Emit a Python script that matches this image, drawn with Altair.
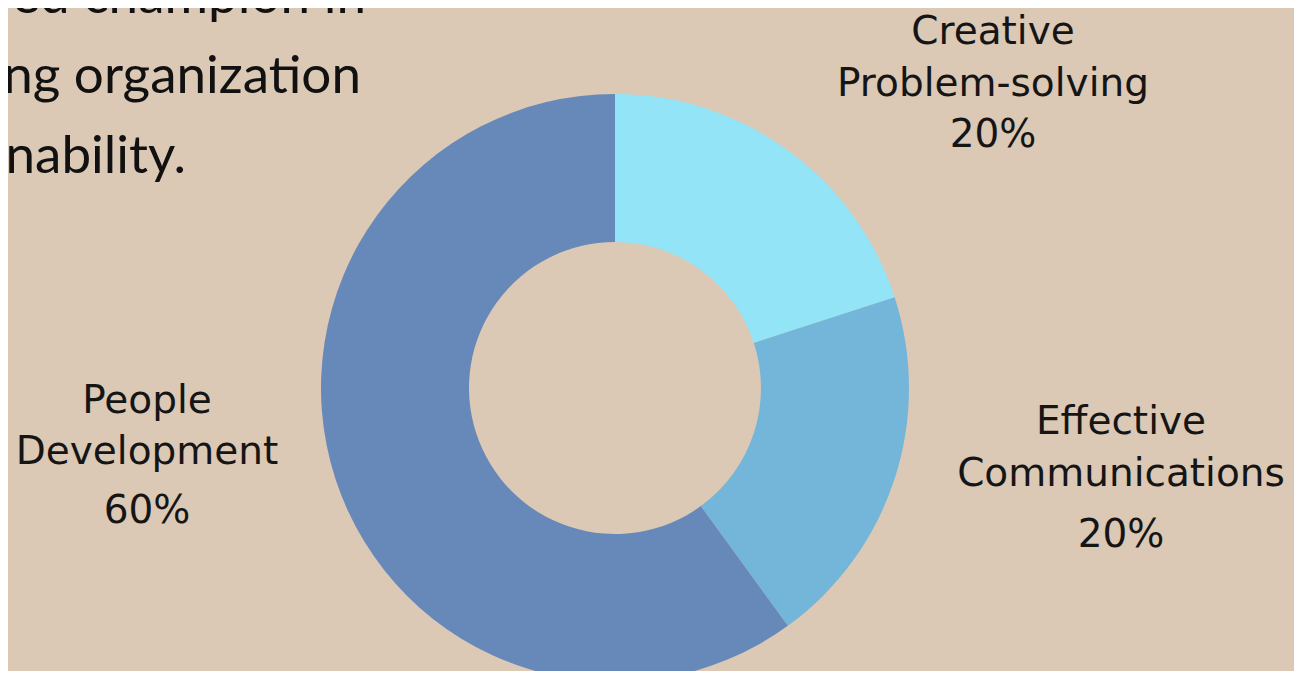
import altair as alt
import pandas as pd

categories = ["Creative Problem-solving", "Effective Communications", "People Development"]
shares = [20, 20, 60]
slice_colors = ["#93E4F7", "#74B5DA", "#6689BA"]

label_lines = [
    ["Creative", "Problem-solving", "20%"],
    ["Effective", "Communications", "20%"],
    ["People", "Development", "60%"],
]
intro_lines = ["ed champion in", "ng organization", "nability."]

BG = "#DBC8B5"
OX, OY = 8, 8  # page margin offset
CX, CY = 615 - OX, 388 - OY

df = pd.DataFrame({"category": categories, "share": shares, "order": [0, 1, 2]})

donut = alt.Chart(df).mark_arc(outerRadius=294, innerRadius=146, stroke=None).encode(
    theta=alt.Theta("share:Q", stack=True),
    color=alt.Color("category:N", scale=alt.Scale(domain=categories, range=slice_colors), legend=None),
    order=alt.Order("order:Q"),
    x=alt.value(CX),
    y=alt.value(CY),
)

# label line positions (page coords for baseline)
label_x = [993, 1121, 147]
label_base = [[44, 96, 147], [434, 486, 547], [413, 464, 523]]
rows = []
for i, lines in enumerate(label_lines):
    for j, t in enumerate(lines):
        rows.append({"text": t, "x": label_x[i] - OX, "y": label_base[i][j] - OY})
ldf = pd.DataFrame(rows)

labels = alt.Chart(ldf).mark_text(
    font="DejaVu Sans", fontSize=39, fontWeight="normal", color="#151515",
    align="center", baseline="alphabetic",
).encode(
    x=alt.X("x:Q", scale=None),
    y=alt.Y("y:Q", scale=None),
    text="text:N",
)

intro_right = [366, 361, 186]
intro_base = [13, 93, 173]
idf = pd.DataFrame({
    "text": intro_lines,
    "x": [v - OX for v in intro_right],
    "y": [v - OY for v in intro_base],
})
intro = alt.Chart(idf).mark_text(
    font="Lato", fontSize=53, color="#111111", align="right", baseline="alphabetic",
).encode(
    x=alt.X("x:Q", scale=None),
    y=alt.Y("y:Q", scale=None),
    text="text:N",
)

chart = alt.layer(donut, labels, intro).properties(
    width=1302 - 2 * OX, height=679 - 2 * OY, padding=0, background=BG,
    autosize=alt.AutoSizeParams(type="none"),
).configure_view(stroke=None)

chart.save("out.html", embed_options={"renderer": "svg", "actions": False})
